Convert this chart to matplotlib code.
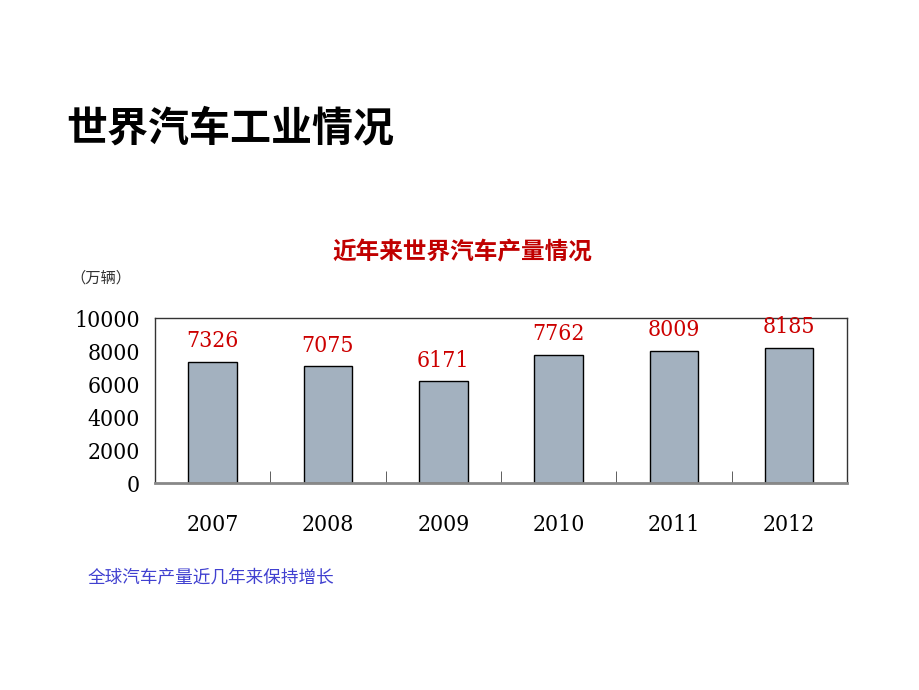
import matplotlib
matplotlib.use('Agg')
import matplotlib.pyplot as plt

plt.rcParams['font.family'] = ['Noto Sans CJK SC', 'DejaVu Sans']

years = ['2007', '2008', '2009', '2010', '2011', '2012']
output = [7326, 7075, 6171, 7762, 8009, 8185]
y_ticks = [0, 2000, 4000, 6000, 8000, 10000]

num_font = dict(family='DejaVu Serif', fontstretch='condensed', fontsize=16.5)

fig = plt.figure(figsize=(9.2, 6.9), dpi=100)
ax = fig.add_axes([0.1685, 0.30, 0.752, 0.239])

x = range(len(years))
bars = ax.bar(x, output, width=0.42, color='#a3b1bf', edgecolor='black', linewidth=1)
for xi, v in zip(x, output):
    ax.annotate(str(v), (xi, v), xytext=(0, 7), textcoords='offset points',
                ha='center', va='bottom', color='#cc0000', **num_font)

ax.set_xlim(-0.5, len(years) - 0.5)
ax.set_ylim(0, 10000)
ax.set_yticks(y_ticks)
ax.set_yticklabels([str(t) for t in y_ticks], **num_font)
ax.tick_params(axis='y', length=0, pad=11)
ax.set_xticks(list(x))
ax.set_xticklabels(years, **num_font)
ax.tick_params(axis='x', length=0, pad=22)
ax.set_xticks([i + 0.5 for i in range(len(years) - 1)], minor=True)
ax.tick_params(axis='x', which='minor', direction='in', length=9, color='#444444')
for s in ['top', 'right', 'left']:
    ax.spines[s].set_color('#333333')
    ax.spines[s].set_linewidth(1)
ax.spines['bottom'].set_color('#888888')
ax.spines['bottom'].set_linewidth(2)

fig.text(66 / 920, 1 - 128 / 690, '世界汽车工业情况', fontsize=29.5, fontweight='bold',
         color='black', ha='left', va='center')
fig.text(462 / 920, 1 - 252 / 690, '近年来世界汽车产量情况', fontsize=17, fontweight='bold',
         color='#c00000', ha='center', va='center')
fig.text(70 / 920, 1 - 278 / 690, '（万辆）', fontsize=11, color='#333333',
         ha='left', va='center')
fig.text(88 / 920, 1 - 578 / 690, '全球汽车产量近几年来保持增长', fontsize=12.7,
         color='#4040d0', ha='left', va='center')

fig.savefig('out.png', dpi=100)
